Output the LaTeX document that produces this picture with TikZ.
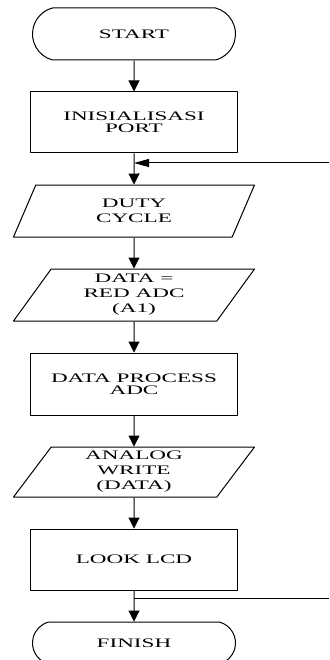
\documentclass[tikz,border=0pt]{standalone}
\usepackage{fontspec}
\setmainfont{Liberation Serif}[FakeStretch=1.78]
\usetikzlibrary{positioning,shapes.geometric,shapes.misc,arrows.meta}

\begin{document}
\begin{tikzpicture}[x=1pt,y=1pt,line width=1pt,line join=round,
  font=\fontsize{13}{11.5}\selectfont,
  >={Triangle[length=11pt,width=11pt]},
  node distance=31pt,
  term/.style={draw,rounded rectangle,rounded rectangle arc length=150,minimum width=207pt,minimum height=52pt,inner sep=2pt},
  proc/.style={draw,rectangle,minimum width=207pt,minimum height=61pt,align=center,inner sep=2pt},
  io/.style={draw,trapezium,trapezium left angle=49,trapezium right angle=131,trapezium stretches body,minimum width=241pt,minimum height=52pt,align=center,inner sep=1pt,font=\fontsize{13}{15}\selectfont}]
\def \xmax{329};
\def \ymin{-660};
\useasboundingbox (0,0) rectangle (\xmax,\ymin);
\node[term] (start) at (134,-34) {START};
\node[proc,below=of start] (init) {INISIALISASI\\PORT};
\node[io,below=of init] (duty) {DUTY\\CYCLE};
\node[io,below=of duty] (read) {DATA =\\RED ADC\\(A1)};
\node[proc,below=of read,minimum height=62pt] (adc) {DATA PROCESS\\ADC};
\node[io,below=of adc,minimum height=50pt] (write) {ANALOG\\WRITE\\(DATA)};
\node[proc,below=of write] (lcd) {LOOK LCD};
\node[term,below=of lcd,minimum height=42pt] (finish) {FINISH};
\foreach \a/\b in {start/init,init/duty,duty/read,read/adc,adc/write,write/lcd,lcd/finish}{\draw[->] (\a) -- (\b);}
\coordinate (back) at (\xmax,-163);
\coordinate (join) at (init.south |- back);
\draw[-{Triangle[length=15pt,width=8pt]}] (back) -- (join);
\coordinate (out) at (\xmax,-598);
\coordinate (split) at (lcd.south |- out);
\draw (split) -- (out);
\end{tikzpicture}
\end{document}
